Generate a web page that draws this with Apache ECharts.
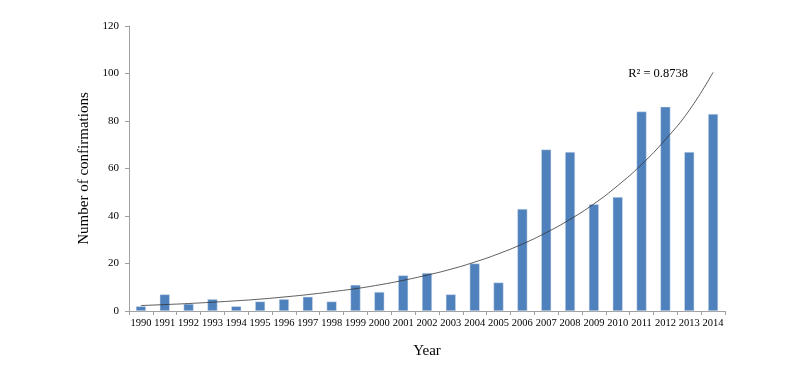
<!DOCTYPE html>
<html>
<head>
<meta charset="utf-8">
<script src="https://cdn.jsdelivr.net/npm/echarts@6/dist/echarts.min.js"></script>
<style>html,body{margin:0;padding:0;background:#fff}#c{width:800px;height:366px}</style>
</head>
<body>
<div id="c"></div>
<script>
const years = ['1990','1991','1992','1993','1994','1995','1996','1997','1998','1999','2000','2001','2002','2003','2004','2005','2006','2007','2008','2009','2010','2011','2012','2013','2014'];
const confirmations = [2,7,3,5,2,4,5,6,4,11,8,15,16,7,20,12,43,68,67,45,48,84,86,67,83];
const trendline = [2.3,2.7,3.15,3.7,4.3,5.0,5.9,6.9,8.1,9.4,11.0,12.9,15.1,17.6,20.6,24.1,28.2,33.0,38.6,45.1,52.8,61.7,72.2,84.5,100.5];
const yTicks = [0,20,40,60,80,100,120];
const r2Label = 'R² = 0.8738';

const font = '"Liberation Serif", "Times New Roman", serif';
const chart = echarts.init(document.getElementById('c'), null, {renderer: 'canvas'});
chart.setOption({
  animation: false,
  backgroundColor: '#fff',
  grid: {left: 129, right: 75, top: 26, bottom: 55, containLabel: false},
  xAxis: {
    type: 'category',
    data: years,
    name: 'Year',
    nameLocation: 'middle',
    nameGap: 33,
    nameTextStyle: {fontFamily: font, fontSize: 15, color: '#000'},
    axisLine: {lineStyle: {color: '#a0a0a0', width: 1}},
    axisTick: {show: true, alignWithLabel: false, length: 4, lineStyle: {color: '#a0a0a0'}},
    axisLabel: {fontFamily: font, fontSize: 10.5, color: '#000', interval: 0, margin: 7}
  },
  yAxis: {
    type: 'value',
    min: yTicks[0],
    max: yTicks[yTicks.length - 1],
    interval: 20,
    name: 'Number of confirmations',
    nameLocation: 'middle',
    nameGap: 35,
    nameRotate: 90,
    nameTextStyle: {fontFamily: font, fontSize: 15, color: '#000'},
    axisLine: {show: true, lineStyle: {color: '#a0a0a0', width: 1}},
    axisTick: {show: true, length: 4, lineStyle: {color: '#a0a0a0'}},
    axisLabel: {fontFamily: font, fontSize: 11, color: '#000', margin: 10},
    splitLine: {show: false}
  },
  series: [
    {
      type: 'bar',
      data: confirmations,
      barWidth: 10,
      itemStyle: {color: '#4F81BD', borderColor: '#dfe6f0', borderWidth: 0.5},
      z: 2
    },
    {
      type: 'line',
      data: trendline,
      smooth: true,
      symbol: 'none',
      lineStyle: {color: '#333', width: 0.8},
      z: 3,
      markPoint: {
        symbol: 'rect',
        symbolSize: 1,
        itemStyle: {color: 'transparent'},
        label: {
          show: true,
          formatter: r2Label,
          fontFamily: font,
          fontSize: 12.5,
          color: '#000',
          position: 'inside',
          offset: [-55, 1]
        },
        data: [{coord: [years[years.length - 1], trendline[trendline.length - 1]]}]
      }
    }
  ]
});
</script>
</body>
</html>
